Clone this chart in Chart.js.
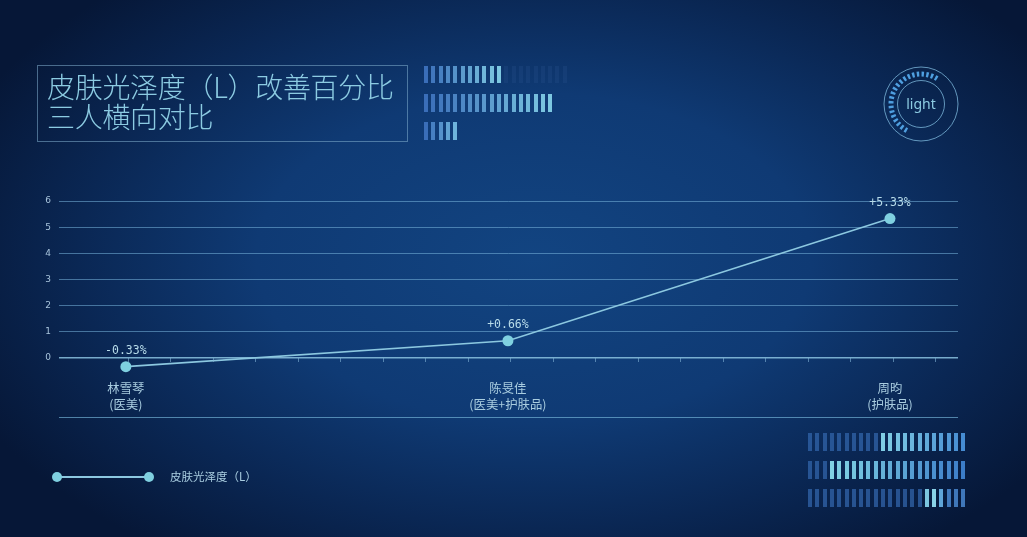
<!DOCTYPE html>
<html>
<head>
<meta charset="utf-8">
<script src="https://cdn.jsdelivr.net/npm/chart.js@4"></script>
<style>
  html, body { margin: 0; padding: 0; }
  body {
    width: 1027px; height: 537px; overflow: hidden; position: relative;
    background: radial-gradient(ellipse 60% 68% at 52% 48%, #124481 0%, #0f3a74 45%, #0a2754 74%, #061737 100%);
    font-family: "Noto Sans CJK SC", "Noto Sans", sans-serif;
  }
  #chart { position: absolute; left: 0; top: 0; }
  .titlebox {
    position: absolute; left: 37px; top: 65px; width: 371px; height: 77px;
    border: 1px solid rgba(130, 175, 205, 0.55);
    color: #8ccbe2; font-size: 28px; line-height: 30px; font-weight: 200;
    padding: 5px 0 0 9px; box-sizing: border-box; letter-spacing: -0.3px; white-space: nowrap;
  }
  .bar { position: absolute; width: 4px; }
  .legend { position: absolute; left: 52px; top: 470px; height: 14px; }
  .legend .ln { position: absolute; left: 5px; top: 6px; width: 92px; height: 2px; background: #8cc8e0; }
  .legend .dot { position: absolute; top: 2px; width: 10px; height: 10px; border-radius: 50%; background: #7fd0e0; }
  .legend .txt { position: absolute; left: 118px; top: -2px; white-space: nowrap; color: #a9cde0; font-size: 11.5px; }
  .sep { position: absolute; left: 59px; top: 417px; width: 899px; height: 1px; background: rgba(120, 185, 220, 0.65); }
  svg.ring { position: absolute; left: 880px; top: 63px; }
</style>
</head>
<body>
<canvas id="chart" width="1027" height="537"></canvas>
<div class="titlebox">皮肤光泽度（L）改善百分比<br>三人横向对比</div>
<div class="sep"></div>
<div class="legend">
  <div class="ln"></div>
  <div class="dot" style="left:0"></div>
  <div class="dot" style="left:92px"></div>
  <div class="txt" id="legendText"></div>
</div>
<svg class="ring" width="84" height="84" viewBox="0 0 84 84">
  <circle cx="41" cy="41" r="37" fill="none" stroke="rgba(130,190,225,0.75)" stroke-width="1"/>
  <circle cx="41" cy="41" r="23.5" fill="none" stroke="rgba(130,190,225,0.75)" stroke-width="1"/>
  <circle id="dashArc" cx="41" cy="41" r="30" fill="none" stroke="#4f9fe0" stroke-width="5"
          pathLength="188" transform="rotate(118 41 41)"/>
  <text x="41" y="46" text-anchor="middle" font-family="Noto Sans, sans-serif" font-size="14" fill="#8ccbe2">light</text>
</svg>
<script>
// 数据
const people = ["林雪琴", "陈旻佳", "周昀"];
const groups = ["(医美)", "(医美+护肤品)", "(护肤品)"];
const glossChange = [-0.33, 0.66, 5.33];
const seriesName = "皮肤光泽度（L）";
const yTicks = [0, 1, 2, 3, 4, 5, 6];

document.getElementById("legendText").textContent = seriesName;

// 圆环上的刻度段只画一部分
const arc = document.getElementById("dashArc");
let dash = [];
for (let i = 0; i < 21; i++) dash.push(2.4, i === 20 ? 200 : 2.3);
arc.setAttribute("stroke-dasharray", dash.join(" "));

// 装饰条
function bars(x0, y0, h, colors) {
  colors.forEach((c, i) => {
    const d = document.createElement("div");
    d.className = "bar";
    d.style.left = (x0 + i * 7.3) + "px";
    d.style.top = y0 + "px";
    d.style.height = h + "px";
    d.style.background = c;
    document.body.appendChild(d);
  });
}
function ramp(n, a, b, alpha) {
  const out = [];
  for (let i = 0; i < n; i++) {
    const t = n > 1 ? i / (n - 1) : 0;
    const r = Math.round(a[0] + (b[0] - a[0]) * t);
    const g = Math.round(a[1] + (b[1] - a[1]) * t);
    const bl = Math.round(a[2] + (b[2] - a[2]) * t);
    out.push(`rgba(${r},${g},${bl},${alpha})`);
  }
  return out;
}
const blue = [58, 110, 185], cyan = [125, 200, 225];
bars(424, 66, 17, ramp(11, blue, cyan, 1).concat(ramp(9, [40, 80, 140], [40, 80, 140], 0.3)));
bars(424, 94, 18, ramp(18, blue, cyan, 1));
bars(424, 122, 18, ramp(5, blue, [110, 180, 220], 1));

const dim = "rgba(50,100,170,0.75)";
const row1 = [], row2 = [], row3 = [];
for (let i = 0; i < 22; i++) {
  row1.push(i < 10 ? dim : ramp(12, [128, 205, 228], [70, 140, 210], 1)[i - 10]);
  row2.push(i < 3 ? dim : ramp(19, [128, 210, 228], [60, 125, 200], 1)[i - 3]);
  row3.push(i >= 16 && i <= 18 ? ["#7cc6e0", "#8ad2e6", "#5fa5d8"][i - 16] : (i > 18 ? "rgba(70,130,200,0.9)" : dim));
}
bars(808, 433, 18, row1);
bars(808, 461, 18, row2);
bars(808, 489, 18, row3);

// 数值标签 + 零线上的小刻度
const extras = {
  id: "extras",
  afterDatasetsDraw(chart) {
    const ctx = chart.ctx;
    const meta = chart.getDatasetMeta(0);
    ctx.save();
    ctx.font = "11.5px 'DejaVu Sans Mono', monospace";
    ctx.fillStyle = "#b8dcea";
    ctx.textAlign = "center";
    ctx.textBaseline = "bottom";
    meta.data.forEach((pt, i) => {
      const v = glossChange[i];
      const s = (v > 0 ? "+" : "") + v.toFixed(2) + "%";
      ctx.fillText(s, pt.x, pt.y - 10);
    });
    const area = chart.chartArea;
    const y0 = Math.round(chart.scales.y.getPixelForValue(0));
    ctx.strokeStyle = "rgba(130,180,215,0.6)";
    ctx.lineWidth = 1;
    for (let x = area.left + 68.5; x < area.right; x += 42.5) {
      ctx.beginPath();
      ctx.moveTo(Math.round(x) + 0.5, y0);
      ctx.lineTo(Math.round(x) + 0.5, y0 + 4);
      ctx.stroke();
    }
    ctx.restore();
  }
};

new Chart(document.getElementById("chart"), {
  type: "line",
  data: {
    datasets: [{
      label: seriesName,
      data: glossChange.map((v, i) => ({ x: i, y: v })),
      borderColor: "#8cc8e0",
      borderWidth: 1.6,
      pointRadius: 5.5,
      pointBackgroundColor: "#7fd0e0",
      pointBorderWidth: 0,
      clip: false,
      tension: 0
    }]
  },
  options: {
    responsive: false,
    animation: false,
    layout: { padding: { left: 0, top: 201, right: 69, bottom: 118.5 } },
    plugins: { legend: { display: false }, tooltip: { enabled: false } },
    scales: {
      x: {
        type: "linear",
        min: -0.175,
        max: 2.178,
        grid: { display: false },
        border: { display: false },
        afterFit(scale) { scale.height = 50; },
        afterBuildTicks(scale) { scale.ticks = people.map((p, i) => ({ value: i })); },
        ticks: {
          autoSkip: false,
          maxRotation: 0,
          padding: 3,
          color: "#a9cde0",
          font: { size: 12.4, family: "'Noto Sans CJK SC', sans-serif", lineHeight: 1.35 },
          callback: (v) => [people[v], groups[v]]
        }
      },
      y: {
        min: -0.4,
        max: 6,
        afterFit(scale) { scale.width = 59; },
        afterBuildTicks(scale) { scale.ticks = yTicks.map(v => ({ value: v })); },
        grid: {
          color: (c) => c.tick && c.tick.value === 0 ? "rgba(140,195,225,0.85)" : "rgba(120,180,220,0.55)",
          lineWidth: (c) => c.tick && c.tick.value === 0 ? 1.5 : 1,
          drawTicks: false
        },
        border: { display: false },
        ticks: {
          padding: 8,
          color: "#a8c4dc",
          font: { size: 9, family: "'DejaVu Sans', sans-serif" }
        }
      }
    }
  },
  plugins: [extras]
});
</script>
</body>
</html>
